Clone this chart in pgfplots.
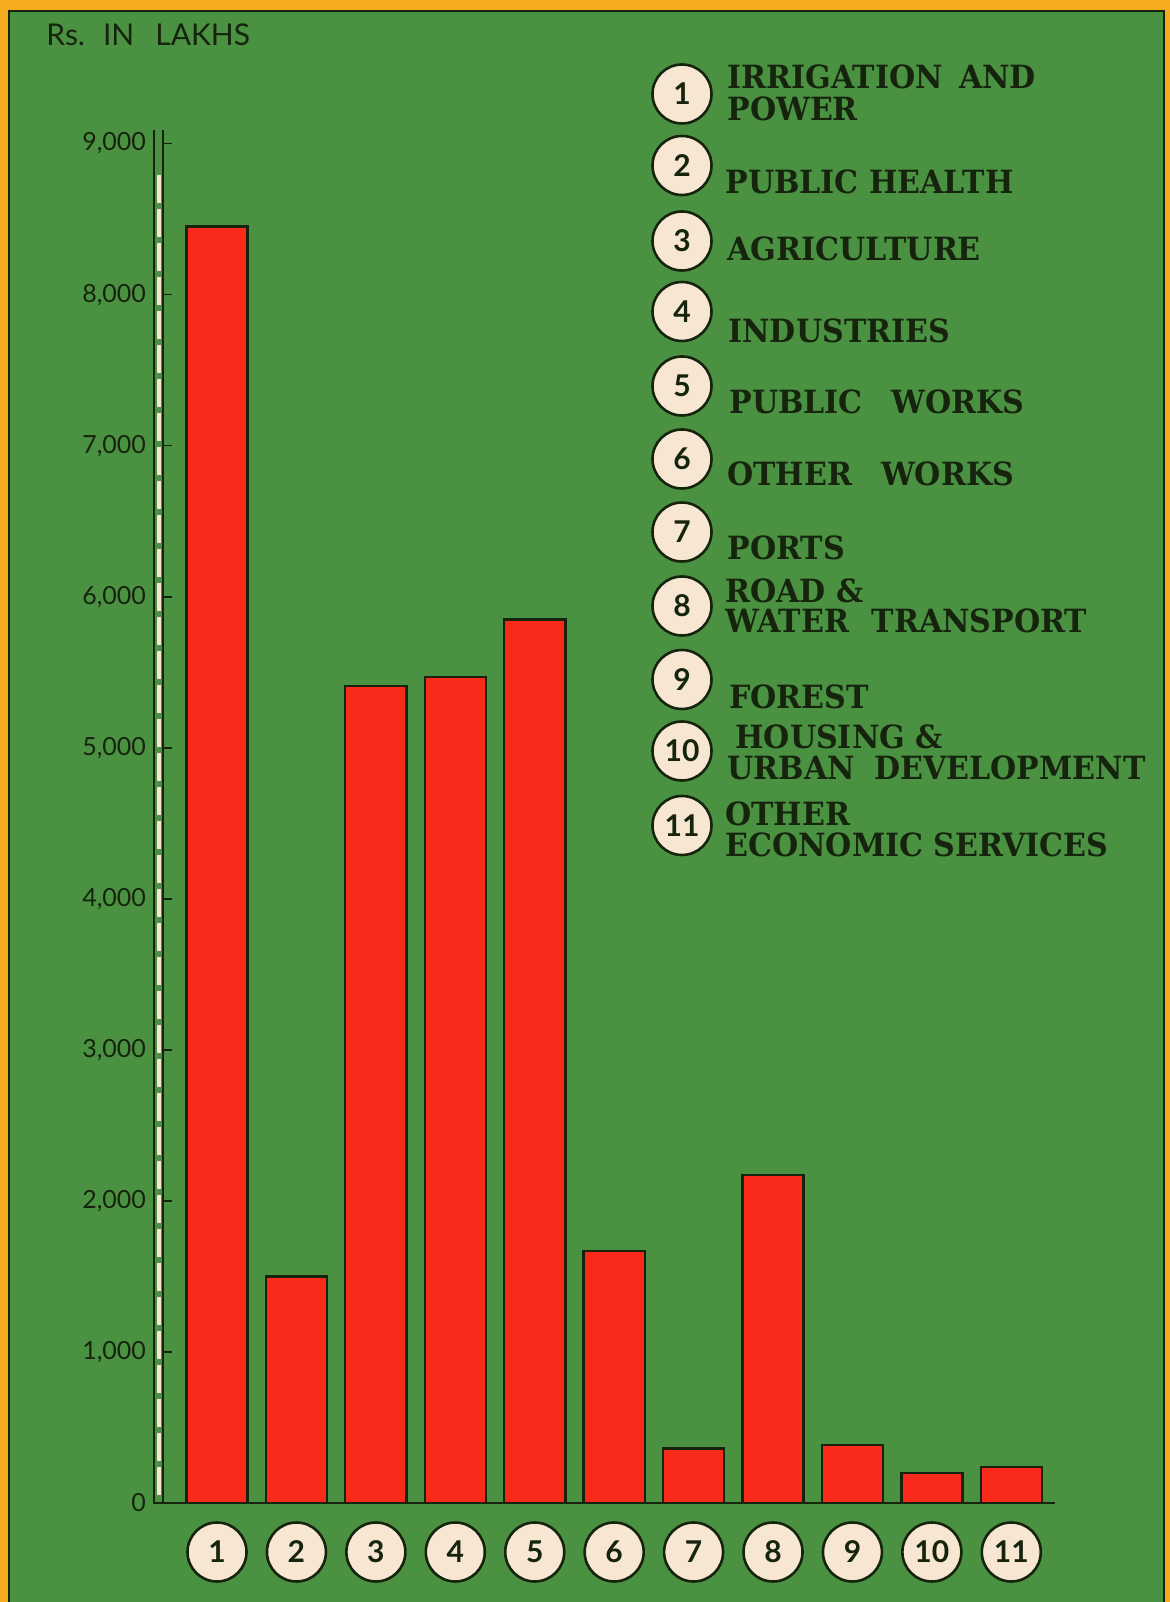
\documentclass[border=0pt]{standalone}
\usepackage{pgfplots}
\pgfplotsset{compat=1.18}
\usepackage{fontspec}
\setmainfont{Lato}
\newfontfamily\legfont[FakeStretch=0.94]{DejaVu Serif}

\definecolor{bggreen}{RGB}{74,146,66}
\definecolor{barred}{RGB}{250,42,26}
\definecolor{frameorange}{RGB}{246,170,30}
\definecolor{ink}{RGB}{22,36,14}
\definecolor{cream}{RGB}{246,230,210}

\tikzset{
  numcirc/.style={circle, draw=ink, line width=1.3pt, fill=cream, minimum size=29.5pt,
    inner sep=0pt, text=ink, font=\bfseries\fontsize{15}{15}\selectfont},
  leg/.style={anchor=west, inner sep=0pt, text=ink,
    font=\legfont\bfseries\fontsize{16}{18}\selectfont}
}

\begin{document}
\begin{tikzpicture}
\useasboundingbox (0,0) rectangle (585pt,801pt);
% background, page coordinates in px (y downwards)
\begin{scope}[x=0.5pt, y=-0.5pt, yshift=801pt]
  \fill[frameorange] (0,0) rectangle (1170,1602);
  \fill[bggreen] (9,11) rectangle (1164,1602);
  \draw[ink, line width=1.2pt] (9,1602) -- (9,11) -- (1164,11) -- (1164,1602);
  \node[anchor=west, inner sep=0pt, text=ink, font=\fontsize{15}{17}\selectfont]
    at (46,35) {Rs.\hspace{0.6em}IN\hspace{0.7em}LAKHS};

  % legend
  \foreach \n/\cy in {1/94, 2/165.5, 3/241, 4/311.5, 5/386, 6/459,
                      7/532, 8/606, 9/679.5, 10/751, 11/825.5}
    \node[numcirc] at (682,\cy) {\n};
  \node[leg] at (727,76.5) {IRRIGATION\hspace{0.5em}AND};
  \node[leg] at (727,108.5) {POWER};
  \node[leg] at (725,182) {PUBLIC HEALTH};
  \node[leg] at (727,249) {AGRICULTURE};
  \node[leg] at (728,331) {INDUSTRIES};
  \node[leg] at (729,401.5) {PUBLIC\hspace{0.9em}WORKS};
  \node[leg] at (727,474) {OTHER\hspace{0.9em}WORKS};
  \node[leg] at (727,548) {PORTS};
  \node[leg] at (725,590.5) {ROAD \&};
  \node[leg] at (725,621) {WATER\hspace{0.7em}TRANSPORT};
  \node[leg] at (729,697) {FOREST};
  \node[leg] at (735,736.5) {HOUSING \&};
  \node[leg] at (727,768) {URBAN\hspace{0.6em}DEVELOPMENT};
  \node[leg] at (725,814) {OTHER};
  \node[leg] at (725,845) {ECONOMIC SERVICES};

  % double rule beside the value axis
  \draw[ink, line width=0.7pt] (154,130) -- (154,1503) -- (163,1503);
  \draw[cream, line width=1.8pt, dash pattern=on 14pt off 3pt] (159,175) -- (159,1500);
\end{scope}

\begin{axis}[
    at={(81.5pt,49.5pt)}, anchor=south west,
    scale only axis, width=446pt, height=686.5pt,
    xmin=0.32, xmax=11.55, ymin=0, ymax=9090,
    axis x line*=bottom, axis y line*=left,
    axis line style={-, ink, line width=1.3pt},
    ybar, bar width=0.77,
    xtick={1,...,11}, xtick style={draw=none},
    ytick={0,1000,...,9000},
    tick align=inside, major tick length=4.5pt,
    ytick style={ink, line width=0.8pt},
    /pgf/number format/1000 sep={,},
    /pgf/number format/assume math mode=true,
    yticklabel style={text=ink, font=\fontsize{12.5}{14}\selectfont, xshift=-5pt},
    xticklabel style={numcirc, anchor=center, yshift=-24.5pt},
]
\addplot[fill=barred, draw=ink, line width=1.2pt] coordinates {
  (1,8450) (2,1500) (3,5410) (4,5470) (5,5850) (6,1670)
  (7,360) (8,2170) (9,385) (10,200) (11,240)
};
\end{axis}
\end{tikzpicture}
\end{document}
